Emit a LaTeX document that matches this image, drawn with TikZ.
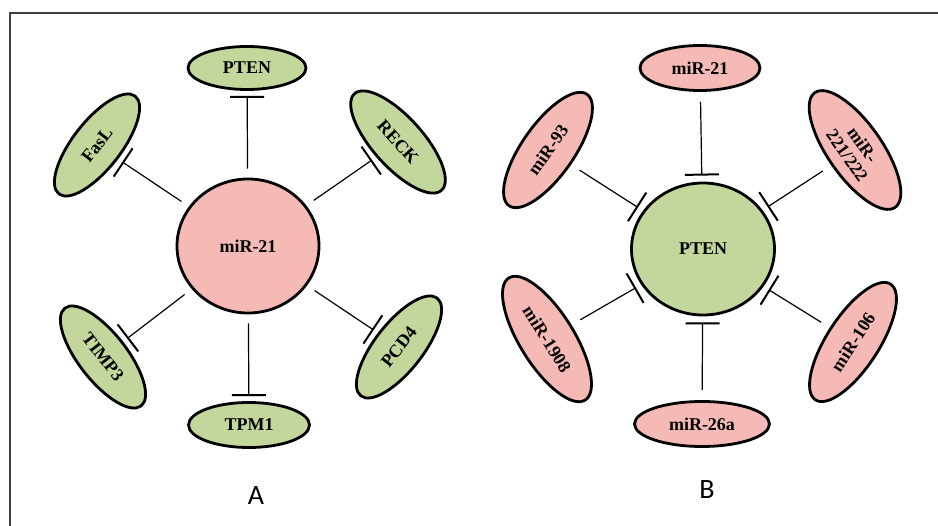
\documentclass[tikz,border=0pt]{standalone}
\usepackage{fontspec}
\newfontfamily\labelfont{Carlito}
\newfontfamily\nodefont{Liberation Serif}
\usetikzlibrary{shapes.geometric,arrows.meta}
\definecolor{leaf}{RGB}{195,214,155}
\definecolor{rose}{RGB}{245,186,182}
\tikzset{
  hub/.style={ellipse, draw, line width=2.8pt, inner sep=0pt, font=\nodefont\fontsize{18}{20}\selectfont\bfseries},
  sat/.style={ellipse, draw, line width=2.8pt, inner sep=0pt, align=center, font=\nodefont\fontsize{18}{19}\selectfont\bfseries},
  inhib/.style={line width=1.2pt, -{Bar[width=34pt,line width=2pt]}},
  panellabel/.style={font=\labelfont\fontsize{28}{30}\selectfont}
}
\begin{document}
\begin{tikzpicture}[x=1pt,y=-1pt]
\useasboundingbox (0,0) rectangle (938,526);
\fill[white] (0,0) rectangle (938,526);
\draw[line width=1.5pt, black!75] (10,526) -- (10,13) -- (938,13);

% Panel A
\node[hub, fill=rose, minimum width=142pt, minimum height=134pt] (hubA) at (248,246) {miR-21};
\node[sat, fill=leaf, minimum width=118pt, minimum height=43pt] (ptenA) at (247,68) {PTEN};
\node[sat, fill=leaf, minimum width=121pt, minimum height=45pt] (tpm) at (249,425) {TPM1};
\node[sat, fill=leaf, minimum width=124pt, minimum height=48pt, rotate=52] (fasl) at (97,145) {FasL};
\node[sat, fill=leaf, minimum width=130pt, minimum height=50pt, rotate=-48] (reck) at (398,142) {RECK};
\node[sat, fill=leaf, minimum width=124pt, minimum height=48pt, rotate=-52] (timp) at (103,357) {TIMP3};
\node[sat, fill=leaf, minimum width=124pt, minimum height=48pt, rotate=52] (pcd) at (399,347) {PCD4};

\draw[inhib, shorten <=9pt, shorten >=5pt] (hubA) -- (ptenA);
\draw[inhib, shorten <=9pt, shorten >=5pt] (hubA) -- (tpm);
\draw[inhib, shorten <=9pt, shorten >=5pt] (hubA) -- (fasl);
\draw[inhib, shorten <=9pt, shorten >=5pt] (hubA) -- (reck);
\draw[inhib, shorten <=9pt, shorten >=5pt] (hubA) -- (timp);
\draw[inhib, shorten <=9pt, shorten >=5pt] (hubA) -- (pcd);

\node[panellabel] (labA) at (256,496) {A};

% Panel B
\node[hub, fill=leaf, minimum width=143pt, minimum height=132pt] (hubB) at (703,249) {PTEN};
\node[sat, fill=rose, minimum width=120pt, minimum height=45pt] (m21) at (700,68) {miR-21};
\node[sat, fill=rose, minimum width=135pt, minimum height=45pt] (m26) at (702,424) {miR-26a};
\node[sat, fill=rose, minimum width=136pt, minimum height=52pt, rotate=55] (m93) at (548,150) {miR-93};
\node[sat, fill=rose, minimum width=140pt, minimum height=54pt, rotate=-55] (m221) at (855,150) {miR-\\221/222};
\node[sat, fill=rose, minimum width=144pt, minimum height=54pt, rotate=-58] (m1908) at (547,339) {miR-1908};
\node[sat, fill=rose, minimum width=138pt, minimum height=52pt, rotate=57] (m106) at (853,342) {miR-106};

\draw[inhib, shorten <=10pt, shorten >=6pt] (m21) -- (hubB);
\draw[inhib, shorten <=10pt, shorten >=6pt] (m26) -- (hubB);
\draw[inhib, shorten <=10pt, shorten >=6pt] (m93) -- (hubB);
\draw[inhib, shorten <=10pt, shorten >=6pt] (m221) -- (hubB);
\draw[inhib, shorten <=10pt, shorten >=6pt] (m1908) -- (hubB);
\draw[inhib, shorten <=10pt, shorten >=6pt] (m106) -- (hubB);

\node[panellabel] (labB) at (707,490) {B};
\end{tikzpicture}
\end{document}
